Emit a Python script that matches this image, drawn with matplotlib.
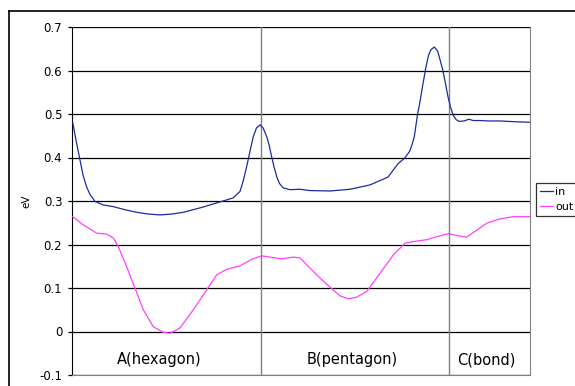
import matplotlib
matplotlib.use("Agg")
import matplotlib.pyplot as plt
from matplotlib.lines import Line2D

# position along path (A: 0-1, B: 1-2, C: 2-2.42)
x_in = [0.004, 0.021, 0.042, 0.058, 0.077, 0.095, 0.122, 0.164, 0.219, 0.280, 0.342,
        0.404, 0.466, 0.528, 0.589, 0.693, 0.799, 0.852, 0.889, 0.905, 0.924, 0.942,
        0.959, 0.976, 0.995, 1.011, 1.030, 1.042, 1.056, 1.069, 1.083, 1.098, 1.118,
        1.153, 1.206, 1.259, 1.365, 1.471, 1.577, 1.672, 1.725, 1.759, 1.786, 1.799,
        1.811, 1.829, 1.838, 1.857, 1.873, 1.886, 1.899, 1.917, 1.935, 1.947, 1.961,
        1.975, 1.989, 2.003, 2.016, 2.032, 2.048, 2.074, 2.100, 2.122, 2.159, 2.203,
        2.265, 2.353, 2.423]
y_in = [0.480, 0.440, 0.395, 0.360, 0.333, 0.315, 0.299, 0.291, 0.287, 0.280, 0.274,
        0.270, 0.268, 0.270, 0.274, 0.286, 0.300, 0.307, 0.322, 0.345, 0.379, 0.415,
        0.448, 0.468, 0.475, 0.468, 0.448, 0.430, 0.402, 0.378, 0.356, 0.340, 0.330,
        0.326, 0.327, 0.324, 0.323, 0.327, 0.337, 0.355, 0.386, 0.398, 0.414, 0.430,
        0.448, 0.502, 0.521, 0.570, 0.609, 0.635, 0.648, 0.654, 0.644, 0.625, 0.602,
        0.572, 0.540, 0.515, 0.498, 0.487, 0.483, 0.484, 0.488, 0.485, 0.485, 0.484,
        0.484, 0.482, 0.481]

x_out = [0.004, 0.060, 0.131, 0.183, 0.219, 0.245, 0.289, 0.333, 0.377, 0.430, 0.483,
         0.519, 0.571, 0.642, 0.713, 0.765, 0.818, 0.889, 0.951, 1.004, 1.048, 1.110,
         1.171, 1.206, 1.259, 1.312, 1.365, 1.418, 1.462, 1.506, 1.559, 1.630, 1.700,
         1.762, 1.824, 1.877, 1.930, 1.991, 2.044, 2.088, 2.132, 2.194, 2.265, 2.335,
         2.423]
y_out = [0.264, 0.245, 0.226, 0.224, 0.215, 0.195, 0.149, 0.100, 0.050, 0.011, -0.002,
         -0.004, 0.008, 0.050, 0.096, 0.130, 0.143, 0.151, 0.166, 0.174, 0.171, 0.167,
         0.171, 0.169, 0.146, 0.123, 0.102, 0.082, 0.075, 0.079, 0.092, 0.134, 0.176,
         0.203, 0.208, 0.211, 0.218, 0.225, 0.220, 0.217, 0.230, 0.249, 0.259, 0.264,
         0.264]

region_labels = ["A(hexagon)", "B(pentagon)", "C(bond)"]
region_centers = [0.46, 1.48, 2.19]
boundaries = [1.0, 1.995]
yticks = [-0.1, 0, 0.1, 0.2, 0.3, 0.4, 0.5, 0.6, 0.7]
ytick_labels = ["-0.1", "0", "0.1", "0.2", "0.3", "0.4", "0.5", "0.6", "0.7"]

fig = plt.figure(figsize=(5.75, 3.86), dpi=100)
ax = fig.add_axes([72/575, 1-375/386, (530-72)/575, (375-27)/386])

for yv in yticks:
    ax.axhline(yv, color="black", lw=0.9, zorder=1)
for b in boundaries:
    ax.axvline(b, color="#808080", lw=1.0, zorder=1)

ax.plot(x_in, y_in, color="#1c2c9c", lw=0.9, label="in", zorder=3)
ax.plot(x_out, y_out, color="#ff40ff", lw=0.9, label="out", zorder=3)

for lab, cx in zip(region_labels, region_centers):
    ax.text(cx, -0.065, lab, ha="center", va="center", fontsize=10.5)

ax.set_xlim(0, 2.423)
ax.set_ylim(-0.1, 0.7)
ax.set_yticks(yticks)
ax.set_yticklabels(ytick_labels, fontsize=8.5)
ax.set_xticks([])
ax.tick_params(axis="y", length=3, width=0.9, pad=4)
ax.spines["left"].set_color("black")
for s in ["right", "bottom", "top"]:
    ax.spines[s].set_color("#808080")
ax.spines["top"].set_visible(False)
ax.set_ylabel("eV", fontsize=7.5, labelpad=6)

leg = ax.legend(loc="upper left", bbox_to_anchor=(536/575, 1-183/386),
                bbox_transform=fig.transFigure, borderaxespad=0, fontsize=8,
                frameon=True, fancybox=False, handlelength=1.2, handletextpad=0.2,
                borderpad=0.35, labelspacing=0.45)
leg.get_frame().set_edgecolor("black")
leg.get_frame().set_linewidth(0.9)

# outer chart frame (left and top edges visible)
fig.add_artist(Line2D([8.5/575, 8.5/575], [0, 1-10.5/386], color="black", lw=1.2,
                      transform=fig.transFigure))
fig.add_artist(Line2D([8.5/575, 1.0], [1-10.5/386, 1-10.5/386], color="black", lw=1.2,
                      transform=fig.transFigure))

fig.savefig("out.png", dpi=100)
